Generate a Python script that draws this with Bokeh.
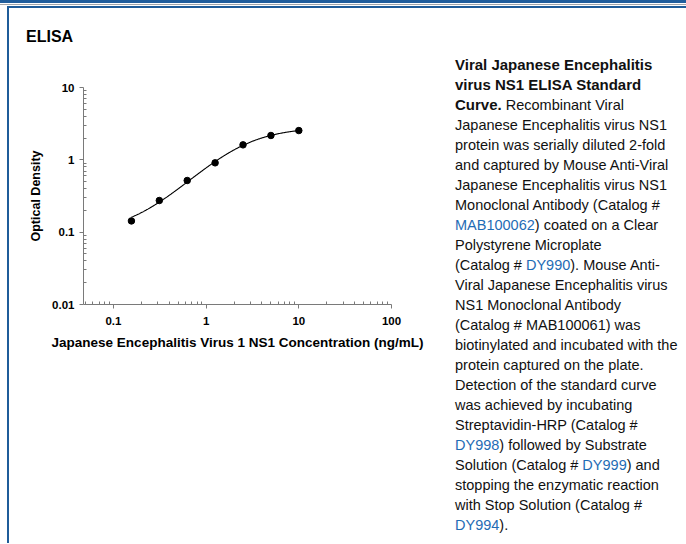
import numpy as np
from bokeh.plotting import figure
from bokeh.models import Div, FixedTicker, Range1d
from bokeh.layouts import row, column
from bokeh.embed import file_html
from bokeh.resources import INLINE

# ---------------- data ----------------
conc = [0.15625, 0.3125, 0.625, 1.25, 2.5, 5.0, 10.0]        # ng/mL
od = [0.143, 0.274, 0.518, 0.909, 1.61, 2.17, 2.54]          # optical density

x_ticks = [0.1, 1, 10, 100]
x_tick_labels = ["0.1", "1", "10", "100"]
y_ticks = [0.01, 0.1, 1, 10]
y_tick_labels = ["0.01", "0.1", "1", "10"]

chart_title = "ELISA"
x_label = "Japanese Encephalitis Virus 1 NS1 Concentration (ng/mL)"
y_label = "Optical Density"

caption_lines = [
    "<b>Viral Japanese Encephalitis</b>",
    "<b>virus NS1 ELISA Standard</b>",
    "<b>Curve.</b> Recombinant Viral",
    "Japanese Encephalitis virus NS1",
    "protein was serially diluted 2-fold",
    "and captured by Mouse Anti-Viral",
    "Japanese Encephalitis virus NS1",
    "Monoclonal Antibody (Catalog #",
    "{MAB100062}) coated on a Clear",
    "Polystyrene Microplate",
    "(Catalog # {DY990}). Mouse Anti-",
    "Viral Japanese Encephalitis virus",
    "NS1 Monoclonal Antibody",
    "(Catalog # MAB100061) was",
    "biotinylated and incubated with the",
    "protein captured on the plate.",
    "Detection of the standard curve",
    "was achieved by incubating",
    "Streptavidin-HRP (Catalog #",
    "{DY998}) followed by Substrate",
    "Solution (Catalog # {DY999}) and",
    "stopping the enzymatic reaction",
    "with Stop Solution (Catalog #",
    "{DY994}).",
]

# ---------------- styles ----------------
FONT = "Liberation Sans"
BORDER_BLUE = "#1f5c99"
TOP_BLUE = "#215e9c"
RULE_GRAY = "#a3a6aa"
LINK_BLUE = "#1f6cb5"
AXIS_GRAY = "#7a7a7a"


# ---------------- 4PL fit of the standard curve ----------------
def four_pl(x, a, b, c, d):
    return d + (a - d) / (1.0 + (x / c) ** b)


def fit_curve(xs, ys):
    x = np.asarray(xs, float)
    y = np.asarray(ys, float)

    def model(p, xx=x):
        return four_pl(xx, p[0], p[1], np.exp(p[2]), p[3])

    p = np.array([y.min() * 0.5, 1.0, np.log(np.median(x)), y.max() * 1.2])
    r = y - model(p)
    cost = r @ r
    lam = 1e-2
    for _ in range(800):
        J = np.empty((len(x), 4))
        for k in range(4):
            h = 1e-6 * max(1.0, abs(p[k]))
            dp = np.zeros(4)
            dp[k] = h
            J[:, k] = (model(p + dp) - model(p - dp)) / (2 * h)
        A = J.T @ J
        g = J.T @ r
        try:
            step = np.linalg.solve(A + lam * np.diag(np.diag(A) + 1e-12), g)
        except np.linalg.LinAlgError:
            lam *= 10
            continue
        pn = p + step
        with np.errstate(all="ignore"):
            rn = y - model(pn)
        cn = rn @ rn
        if np.isfinite(cn) and cn < cost:
            p, r, cost = pn, rn, cn
            lam = max(lam / 3, 1e-12)
            if np.max(np.abs(step)) < 1e-12:
                break
        else:
            lam *= 4
            if lam > 1e12:
                break
    xx = np.geomspace(x[0], x[-1], 300)
    with np.errstate(all="ignore"):
        yy = model(p, xx)
    if not np.all(np.isfinite(yy)) or np.any(yy <= 0):
        coef = np.polyfit(np.log10(x), np.log10(y), 3)
        yy = 10 ** np.polyval(coef, np.log10(xx))
    return xx, yy


curve_x, curve_y = fit_curve(conc, od)


def minor_list(lo_exp, hi_exp, lo, hi):
    out = []
    for e in range(lo_exp, hi_exp + 1):
        for k in range(2, 10):
            v = k * 10.0 ** e
            if lo < v < hi:
                out.append(v)
    return out


# ---------------- figure ----------------
p = figure(
    width=446, height=485,
    x_axis_type="log", y_axis_type="log",
    x_range=Range1d(0.0475, 100), y_range=Range1d(0.01, 10),
    output_backend="svg", toolbar_location=None,
    min_border_left=74, min_border_right=64,
    min_border_top=29, min_border_bottom=239,
)
p.outline_line_color = None
p.xgrid.visible = False
p.ygrid.visible = False
p.background_fill_color = "white"
p.border_fill_color = "white"

p.line(curve_x, curve_y, line_color="black", line_width=1.1)
p.scatter(conc, od, size=6.5, fill_color="black", line_color="black")

p.xaxis.ticker = FixedTicker(ticks=x_ticks, minor_ticks=minor_list(-2, 1, 0.0475, 100))
p.yaxis.ticker = FixedTicker(ticks=y_ticks, minor_ticks=minor_list(-2, 0, 0.01, 10))
p.xaxis.major_label_overrides = {t: l for t, l in zip(x_ticks, x_tick_labels)}
p.yaxis.major_label_overrides = {t: l for t, l in zip(y_ticks, y_tick_labels)}

for ax in (p.xaxis[0], p.yaxis[0]):
    ax.axis_line_color = AXIS_GRAY
    ax.axis_line_width = 1
    ax.major_tick_line_color = AXIS_GRAY
    ax.minor_tick_line_color = AXIS_GRAY
    ax.major_tick_out = 4
    ax.major_tick_in = 0
    ax.minor_tick_out = 0
    ax.minor_tick_in = 3
    ax.major_label_text_font = FONT
    ax.major_label_text_font_style = "bold"
    ax.major_label_text_font_size = "11.5px"
    ax.major_label_text_color = "black"
    ax.axis_label_text_font = FONT
    ax.axis_label_text_font_style = "bold"
    ax.axis_label_text_color = "black"

p.xaxis.axis_label = x_label
p.yaxis.axis_label = y_label
p.xaxis.axis_label_text_font_size = "13.5px"
p.yaxis.axis_label_text_font_size = "12.5px"
p.xaxis.major_label_standoff = 8
p.yaxis.major_label_standoff = 5
p.xaxis.axis_label_standoff = 7
p.yaxis.axis_label_standoff = 6

# ---------------- surrounding page ----------------
title_div = Div(
    text=f'<div style="padding:20px 0 0 17px;font-family:\'{FONT}\';font-weight:bold;'
         f'font-size:16px;line-height:normal;color:#000;white-space:nowrap">{chart_title}</div>',
    width=446, height=50, margin=0,
)


def fmt_line(s):
    s = s.replace("<b>", '<b style="font-size:15px">')
    return s.replace("{", f'<span style="color:{LINK_BLUE}">').replace("}", "</span>")


caption_html = "<br>".join(fmt_line(s) for s in caption_lines)
text_div = Div(
    text=f'<div style="padding-top:47px;font-family:\'{FONT}\';font-size:14.5px;'
         f'line-height:20px;color:#111;white-space:nowrap">{caption_html}</div>',
    width=229, height=535, margin=0,
)


def bar(w, h, color):
    return Div(text="", width=w, height=h, margin=0,
               styles={"background-color": color})


content = row(bar(2, 535, BORDER_BLUE), column(title_div, p, spacing=0), text_div, spacing=0)
framed = row(bar(7, 537, "white"), column(bar(679, 2, BORDER_BLUE), content, spacing=0), spacing=0)
root = column(bar(686, 3, TOP_BLUE), bar(686, 1, "white"), bar(686, 1, RULE_GRAY),
              bar(686, 1, "white"), framed, spacing=0)

open("out.html", "w").write(file_html(root, INLINE))
